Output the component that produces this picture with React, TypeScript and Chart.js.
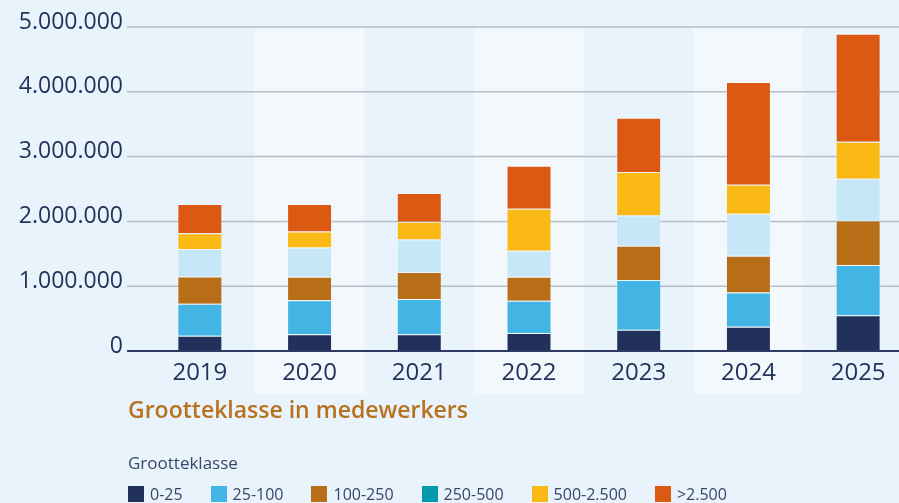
import React, { useEffect, useRef } from "react";
import { Chart, registerables } from "chart.js";

Chart.register(...registerables);

const years = ["2019", "2020", "2021", "2022", "2023", "2024", "2025"];
const classLabels = ["0-25", "25-100", "100-250", "250-500", "500-2.500", ">2.500"];
const s0_25 = [236000, 258000, 258000, 278000, 329000, 376000, 552000];
const s25_100 = [495000, 526000, 546000, 499000, 768000, 525000, 777000];
const s100_250 = [417000, 360000, 417000, 367000, 526000, 567000, 685000];
const s250_500 = [428000, 453000, 499000, 402000, 468000, 649000, 644000];
const s500_2500 = [243000, 247000, 274000, 649000, 671000, 449000, 572000];
const s2500 = [448000, 423000, 443000, 664000, 839000, 1587000, 1665000];
const yTicks = [0, 1000000, 2000000, 3000000, 4000000, 5000000];

const seriesValues = [s0_25, s25_100, s100_250, s250_500, s500_2500, s2500];
const barColors = ["#22305c", "#42b5e5", "#b86e16", "#c6e7f7", "#fab914", "#dc5914"];
const legendColors = ["#22305c", "#42b5e5", "#b86e16", "#0099ad", "#fab914", "#dc5914"];

const FONT = "'Open Sans', sans-serif";
const NAVY = "#25335a";

const fmt = (n: number) => String(n).replace(/\B(?=(\d{3})+(?!\d))/g, ".");

const decorPlugin = {
  id: "decor",
  beforeDraw(chart: any) {
    const { ctx, chartArea, scales } = chart;
    const x = scales.x;
    const catW = (chartArea.right - chartArea.left) / years.length;
    ctx.save();
    ctx.fillStyle = "#f3f8fd";
    years.forEach((_, i) => {
      if (i % 2 === 1) {
        const cx = x.getPixelForValue(i);
        ctx.fillRect(cx - catW / 2, chartArea.top, catW, 394 - chartArea.top);
      }
    });
    ctx.restore();
  },
  beforeDatasetsDraw(chart: any) {
    const { ctx, scales } = chart;
    const y = scales.y;
    ctx.save();
    ctx.strokeStyle = "#b6bdc7";
    ctx.lineWidth = 1.5;
    yTicks.forEach((v) => {
      if (v === 0) return;
      const py = y.getPixelForValue(v);
      ctx.beginPath();
      ctx.moveTo(127, py);
      ctx.lineTo(chart.width, py);
      ctx.stroke();
    });
    ctx.restore();
  },
  afterDatasetsDraw(chart: any) {
    const { ctx, scales } = chart;
    const py = scales.y.getPixelForValue(0);
    ctx.save();
    ctx.strokeStyle = "#2d3b63";
    ctx.lineWidth = 2;
    ctx.beginPath();
    ctx.moveTo(127, py);
    ctx.lineTo(chart.width, py);
    ctx.stroke();
    ctx.restore();
  },
};

export default function App() {
  const ref = useRef<HTMLCanvasElement | null>(null);

  useEffect(() => {
    if (!ref.current) return;
    const chart = new Chart(ref.current, {
      type: "bar",
      data: {
        labels: years,
        datasets: seriesValues.map((vals, i) => ({
          label: classLabels[i],
          data: vals,
          backgroundColor: barColors[i],
          borderColor: "rgba(255,255,255,0.3)",
          borderWidth: 1,
          barPercentage: 0.41,
          categoryPercentage: 1,
        })),
      },
      options: {
        responsive: false,
        animation: false,
        layout: { padding: { top: 27, left: 0, right: 0, bottom: 0 } },
        plugins: {
          legend: { display: false },
          tooltip: { enabled: false },
        },
        scales: {
          x: {
            stacked: true,
            grid: { display: false, drawTicks: false },
            border: { display: false },
            ticks: {
              color: NAVY,
              font: { family: FONT, size: 24 },
              padding: 8,
              autoSkip: false,
              maxRotation: 0,
              minRotation: 0,
            },
            afterFit: (s: any) => {
              s.height = 152;
              s.paddingLeft = 0;
              s.paddingRight = 0;
            },
          },
          y: {
            stacked: true,
            min: 0,
            max: 5000000,
            grid: { display: false, drawTicks: false },
            border: { display: false },
            afterBuildTicks: (s: any) => {
              s.ticks = yTicks.map((v) => ({ value: v }));
            },
            ticks: {
              color: NAVY,
              font: { family: FONT, size: 23 },
              padding: 22,
              labelOffset: -5,
              callback: (v: any) => fmt(Number(v)),
            },
            afterFit: (s: any) => {
              s.width = 145;
              s.paddingTop = 0;
              s.paddingBottom = 0;
            },
          },
        },
      },
      plugins: [decorPlugin],
    });
    return () => chart.destroy();
  }, []);

  return (
    <div
      style={{
        position: "fixed",
        left: 0,
        top: 0,
        width: 899,
        height: 503,
        overflow: "hidden",
        background: "#e8f3fc",
        fontFamily: FONT,
      }}
    >
      <canvas ref={ref} width={913} height={503} style={{ position: "absolute", left: 0, top: 0, width: 913, height: 503 }} />
      <div
        style={{
          position: "absolute",
          left: 128,
          top: 396,
          fontSize: 23,
          lineHeight: "27px",
          fontWeight: 600,
          color: "#b8711c",
          whiteSpace: "nowrap",
        }}
      >
        Grootteklasse in medewerkers
      </div>
      <div
        style={{
          position: "absolute",
          left: 128,
          top: 453,
          fontSize: 17,
          lineHeight: "20px",
          color: "#3a4668",
          whiteSpace: "nowrap",
        }}
      >
        Grootteklasse
      </div>
      <div
        style={{
          position: "absolute",
          left: 128,
          top: 486,
          display: "flex",
          alignItems: "center",
          gap: 28,
          whiteSpace: "nowrap",
        }}
      >
        {classLabels.map((lab, i) => (
          <div key={lab} style={{ display: "flex", alignItems: "center" }}>
            <span style={{ display: "inline-block", width: 16, height: 16, background: legendColors[i], marginRight: 6 }} />
            <span style={{ fontSize: 16, lineHeight: "16px", color: "#3a4668" }}>{lab}</span>
          </div>
        ))}
      </div>
    </div>
  );
}
